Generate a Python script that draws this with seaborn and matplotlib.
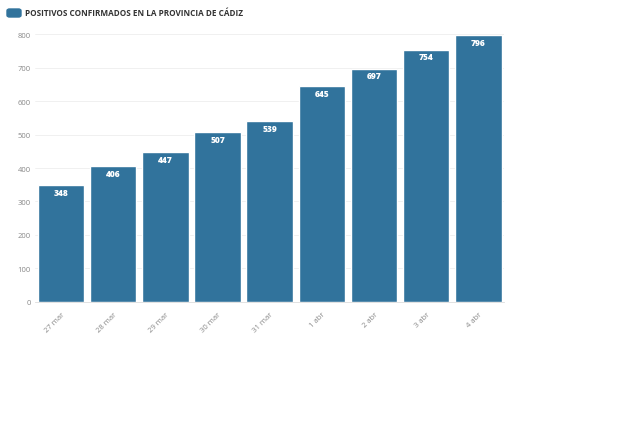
import matplotlib
matplotlib.use("Agg")
import matplotlib.pyplot as plt
import matplotlib.patches as mpatches
import seaborn as sns
import pandas as pd

fechas = ["27 mar", "28 mar", "29 mar", "30 mar", "31 mar", "1 abr", "2 abr", "3 abr", "4 abr"]
positivos = [348, 406, 447, 507, 539, 645, 697, 754, 796]
titulo = "POSITIVOS CONFIRMADOS EN LA PROVINCIA DE CÁDIZ"
color_barra = "#31739c"

sns.set_theme(style="white")
plt.rcParams['font.family'] = ['Open Sans', 'DejaVu Sans']

df = pd.DataFrame({"fecha": fechas, "positivos": positivos})

fig = plt.figure(figsize=(6.3, 4.39), dpi=100)
ax = fig.add_axes([0.0556, 0.31, 0.745, 0.61])

sns.barplot(data=df, x="fecha", y="positivos", color=color_barra, saturation=1,
            width=0.89, ax=ax, zorder=2)

for i, v in enumerate(positivos):
    ax.text(i, v - 8, str(v), ha="center", va="top", fontsize=6, fontweight="heavy",
            color="white", zorder=3)

ax.set_ylim(0, 800)
ax.set_xlim(-0.5, len(fechas) - 0.5)
ax.set_yticks(range(0, 801, 100))
ax.yaxis.grid(True, color="#eeeeee", linewidth=0.6, zorder=0)
ax.set_xlabel("")
ax.set_ylabel("")
ax.tick_params(axis="y", labelsize=5.5, labelcolor="#888888", length=0, pad=3)
ax.tick_params(axis="x", labelsize=5.5, labelcolor="#888888", length=0, pad=6)
plt.setp(ax.get_xticklabels(), rotation=45, ha="right", rotation_mode="anchor")
for s in ["top", "right", "left"]:
    ax.spines[s].set_visible(False)
ax.spines["bottom"].set_color("#dddddd")
ax.spines["bottom"].set_linewidth(0.6)

# leyenda / titulo
fig.patches.append(mpatches.FancyBboxPatch((7 / 630, 1 - 18 / 439), 14 / 630, 8 / 439,
                                           boxstyle="round,pad=0,rounding_size=0.004",
                                           transform=fig.transFigure, color=color_barra))
fig.text(25 / 630, 1 - 14 / 439, titulo, fontsize=5.9, fontweight="bold", color="#333333",
         va="center", ha="left")

plt.savefig("out.png", dpi=100)
